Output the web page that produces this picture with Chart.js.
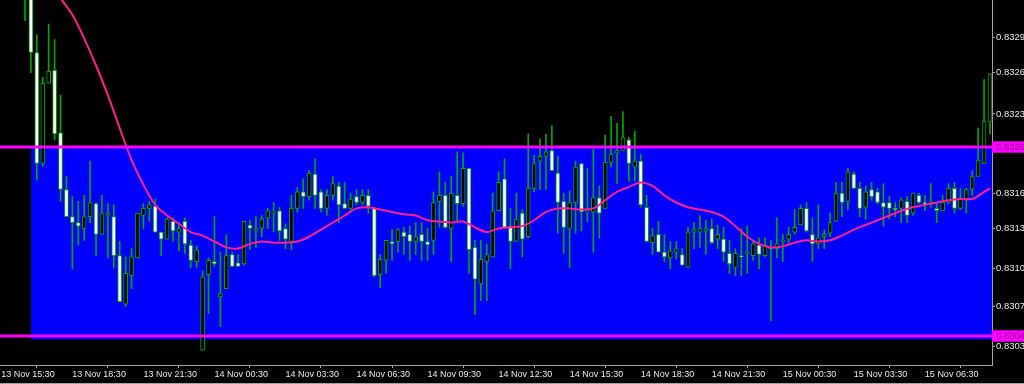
<!DOCTYPE html>
<html><head><meta charset="utf-8">
<script src="https://cdn.jsdelivr.net/npm/chart.js@4/dist/chart.umd.min.js"></script>
<style>html,body{margin:0;padding:0;background:#000;overflow:hidden}canvas{display:block}</style>
</head><body>
<canvas id="c" width="1024" height="384"></canvas>
<script>
// 15-minute candles, candle 0 = 13 Nov 16:30
const opens = [
0.83354,0.83327,0.83280,0.83186,0.83254,0.83265,0.83212,0.83164,0.83141,0.83136,
0.83131,0.83141,0.83152,0.83126,0.83142,0.83141,0.83108,0.83067,0.83091,0.83106,
0.83142,0.83148,0.83150,0.83128,0.83122,0.83137,0.83128,0.83137,0.83117,0.83103,
0.83028,0.83092,0.83103,0.83073,0.83080,0.83109,0.83102,0.83101,0.83134,0.83129,
0.83131,0.83140,0.83144,0.83146,0.83131,0.83120,0.83148,0.83162,0.83158,0.83177,
0.83162,0.83148,0.83159,0.83167,0.83152,0.83148,0.83158,0.83153,0.83159,0.83148,
0.83092,0.83104,0.83120,0.83120,0.83128,0.83126,0.83120,0.83126,0.83120,0.83121,
0.83154,0.83159,0.83131,0.83159,0.83152,0.83182,0.83115,0.83084,0.83103,0.83107,
0.83146,0.83173,0.83133,0.83120,0.83144,0.83124,0.83165,0.83188,0.83192,0.83197,
0.83178,0.83154,0.83131,0.83153,0.83186,0.83145,0.83145,0.83157,0.83148,0.83187,
0.83195,0.83197,0.83206,0.83183,0.83188,0.83149,0.83119,0.83126,0.83111,0.83106,
0.83111,0.83109,0.83098,0.83128,0.83128,0.83129,0.83131,0.83122,0.83122,0.83110,
0.83098,0.83108,0.83110,0.83108,0.83117,0.83108,0.83115,0.83114,0.83120,0.83122,
0.83128,0.83134,0.83148,0.83126,0.83118,0.83124,0.83127,0.83137,0.83161,0.83154,
0.83177,0.83165,0.83149,0.83164,0.83162,0.83153,0.83153,0.83148,0.83148,0.83154,
0.83144,0.83159,0.83153,0.83153,0.83148,0.83146,0.83153,0.83165,0.83148,0.83156,
0.83164,0.83175,0.83186,0.83221];
const highs = [
0.83363,0.83329,0.83295,0.83259,0.83304,0.83291,0.83244,0.83175,0.83158,0.83154,
0.83159,0.83188,0.83153,0.83159,0.83152,0.83151,0.83120,0.83107,0.83114,0.83144,
0.83152,0.83154,0.83156,0.83128,0.83140,0.83140,0.83136,0.83140,0.83121,0.83116,
0.83095,0.83106,0.83141,0.83111,0.83126,0.83111,0.83109,0.83137,0.83138,0.83141,
0.83142,0.83148,0.83153,0.83149,0.83135,0.83159,0.83166,0.83173,0.83180,0.83190,
0.83164,0.83164,0.83175,0.83170,0.83170,0.83161,0.83164,0.83164,0.83164,0.83149,
0.83109,0.83121,0.83130,0.83131,0.83132,0.83133,0.83136,0.83136,0.83131,0.83162,
0.83179,0.83170,0.83175,0.83196,0.83195,0.83182,0.83121,0.83121,0.83118,0.83161,
0.83179,0.83190,0.83148,0.83161,0.83147,0.83211,0.83193,0.83207,0.83211,0.83218,
0.83192,0.83161,0.83163,0.83188,0.83186,0.83182,0.83198,0.83167,0.83210,0.83226,
0.83220,0.83230,0.83208,0.83213,0.83194,0.83159,0.83131,0.83137,0.83126,0.83120,
0.83120,0.83114,0.83132,0.83136,0.83142,0.83138,0.83139,0.83134,0.83132,0.83121,
0.83114,0.83131,0.83133,0.83121,0.83123,0.83123,0.83121,0.83140,0.83126,0.83132,
0.83147,0.83151,0.83153,0.83140,0.83151,0.83130,0.83144,0.83170,0.83170,0.83182,
0.83179,0.83170,0.83167,0.83170,0.83165,0.83169,0.83158,0.83153,0.83157,0.83158,
0.83161,0.83161,0.83159,0.83169,0.83153,0.83159,0.83169,0.83170,0.83165,0.83165,
0.83180,0.83216,0.83257,0.83262];
const lows = [
0.83307,0.83263,0.83172,0.83184,0.83254,0.83206,0.83154,0.83141,0.83097,0.83117,
0.83121,0.83136,0.83108,0.83126,0.83106,0.83098,0.83069,0.83065,0.83080,0.83106,
0.83131,0.83137,0.83128,0.83108,0.83122,0.83120,0.83112,0.83110,0.83098,0.83098,
0.83028,0.83059,0.83099,0.83048,0.83080,0.83099,0.83099,0.83100,0.83113,0.83115,
0.83124,0.83131,0.83128,0.83121,0.83114,0.83113,0.83145,0.83148,0.83155,0.83148,
0.83145,0.83142,0.83155,0.83136,0.83148,0.83145,0.83151,0.83151,0.83144,0.83090,
0.83081,0.83093,0.83104,0.83111,0.83109,0.83104,0.83109,0.83104,0.83104,0.83109,
0.83132,0.83131,0.83103,0.83136,0.83150,0.83093,0.83058,0.83070,0.83070,0.83107,
0.83146,0.83132,0.83097,0.83120,0.83107,0.83123,0.83162,0.83164,0.83164,0.83180,
0.83127,0.83110,0.83098,0.83127,0.83129,0.83137,0.83111,0.83123,0.83148,0.83183,
0.83169,0.83197,0.83171,0.83171,0.83149,0.83120,0.83109,0.83111,0.83103,0.83097,
0.83105,0.83100,0.83098,0.83114,0.83115,0.83109,0.83118,0.83114,0.83103,0.83093,
0.83091,0.83091,0.83093,0.83104,0.83097,0.83107,0.83053,0.83106,0.83103,0.83119,
0.83126,0.83134,0.83128,0.83103,0.83114,0.83114,0.83124,0.83137,0.83141,0.83147,
0.83165,0.83141,0.83139,0.83155,0.83152,0.83133,0.83139,0.83141,0.83136,0.83136,
0.83142,0.83152,0.83146,0.83149,0.83136,0.83146,0.83152,0.83144,0.83147,0.83144,
0.83159,0.83175,0.83186,0.83211];
const closes = [
0.83327,0.83280,0.83186,0.83254,0.83264,0.83211,0.83164,0.83141,0.83136,0.83133,
0.83141,0.83153,0.83126,0.83144,0.83144,0.83108,0.83069,0.83093,0.83107,0.83144,
0.83148,0.83151,0.83128,0.83122,0.83139,0.83129,0.83131,0.83118,0.83104,0.83113,
0.83090,0.83104,0.83101,0.83076,0.83108,0.83099,0.83099,0.83137,0.83131,0.83131,
0.83139,0.83146,0.83145,0.83129,0.83122,0.83148,0.83162,0.83158,0.83178,0.83159,
0.83148,0.83159,0.83169,0.83151,0.83148,0.83156,0.83153,0.83159,0.83150,0.83091,
0.83105,0.83121,0.83118,0.83130,0.83124,0.83120,0.83124,0.83120,0.83117,0.83153,
0.83159,0.83132,0.83161,0.83152,0.83182,0.83113,0.83088,0.83105,0.83109,0.83146,
0.83170,0.83132,0.83120,0.83139,0.83122,0.83165,0.83186,0.83192,0.83196,0.83180,
0.83153,0.83132,0.83153,0.83183,0.83145,0.83146,0.83157,0.83144,0.83187,0.83194,
0.83197,0.83208,0.83186,0.83188,0.83151,0.83120,0.83125,0.83111,0.83107,0.83112,
0.83114,0.83100,0.83128,0.83130,0.83131,0.83131,0.83119,0.83126,0.83111,0.83101,
0.83110,0.83107,0.83110,0.83118,0.83109,0.83117,0.83114,0.83118,0.83121,0.83126,
0.83132,0.83148,0.83129,0.83118,0.83123,0.83126,0.83136,0.83161,0.83153,0.83179,
0.83165,0.83148,0.83162,0.83158,0.83153,0.83149,0.83148,0.83147,0.83155,0.83142,
0.83161,0.83153,0.83152,0.83153,0.83146,0.83153,0.83165,0.83148,0.83157,0.83164,
0.83175,0.83189,0.83222,0.83262];

// moving average, read at candle indices
const maIndex = [2,4,6,8,10,12,14,16,18,20,22,24,26,28,30,32,34,36,38,40,42,44,46,48,50,52,54,56,58,60,
62,64,66,68,70,72,74,76,78,80,82,84,86,88,90,92,94,96,98,100,102,104,106,108,110,112,114,116,118,120,
122,124,126,128,130,132,134,136,138,140,142,144,146,148,150,152,154,156,158,160,162,163];
const maValues = [0.83354,0.83340,0.83326,0.83312,0.83292,0.83269,0.83244,0.83216,0.83189,0.83168,
0.83151,0.83142,0.83135,0.83128,0.83125,0.83120,0.83115,0.83114,0.83118,0.83120,
0.83119,0.83119,0.83120,0.83124,0.83130,0.83136,0.83142,0.83148,0.83149,0.83147,
0.83145,0.83143,0.83142,0.83138,0.83137,0.83136,0.83137,0.83132,0.83128,0.83131,
0.83132,0.83133,0.83138,0.83145,0.83148,0.83148,0.83147,0.83148,0.83155,0.83162,
0.83166,0.83170,0.83167,0.83159,0.83153,0.83149,0.83147,0.83145,0.83141,0.83133,
0.83124,0.83118,0.83115,0.83116,0.83119,0.83121,0.83120,0.83121,0.83125,0.83130,
0.83134,0.83138,0.83142,0.83146,0.83149,0.83151,0.83153,0.83155,0.83156,0.83156,
0.83162,0.83165];

// horizontal levels and zone
const levels = [0.83200, 0.83040];
const zoneTop = 0.83200, zoneBottom = 0.83037, zoneStart = 1;

// axis ticks
const xTickIndex = [-4,8,20,32,44,56,68,80,92,104,116,128,140,152];
const xTickLabels = ["13 Nov 15:30","13 Nov 18:30","13 Nov 21:30","14 Nov 00:30","14 Nov 03:30","14 Nov 06:30",
"14 Nov 09:30","14 Nov 12:30","14 Nov 15:30","14 Nov 18:30","14 Nov 21:30","15 Nov 00:30","15 Nov 03:30","15 Nov 06:30"];
const yTickValues = [0.83293,0.83263,0.83228,0.83200,0.83161,0.83131,0.83097,0.83065,0.83040,0.83031];
const yTickLabels = ["0.8329","0.8326","0.8323","0.8320","0.8316","0.8313","0.8310","0.8307","0.8304","0.8303"];

const X_MIN = -4.22, X_MAX = 163.34, Y_MIN = 0.8301544, Y_MAX = 0.8332445;
const GREEN = '#00a800', AXIS = '#a0a0a0', TXT = '#e6e6e6';

Chart.defaults.font.family = "'Liberation Sans', Arial, sans-serif";

const idx = opens.map((_, i) => i);
const bodyColors = idx.map(i => closes[i] < opens[i] ? '#ffffff' : '#000000');

const bottomLine = {
  id: 'bottomLine',
  afterDraw(chart) {
    const c = chart.ctx;
    c.save(); c.fillStyle = AXIS; c.fillRect(0, chart.height - 1, chart.width, 1); c.restore();
  }
};
const noPad = s => { s.paddingTop = 0; s.paddingBottom = 0; s.paddingLeft = 0; s.paddingRight = 0; };

new Chart(document.getElementById('c'), {
  type: 'bar',
  data: {
    datasets: [
      { type: 'line', data: [{x: zoneStart, y: zoneTop}, {x: X_MAX, y: zoneTop}],
        fill: {value: zoneBottom}, backgroundColor: '#0000ff', borderWidth: 0, pointRadius: 0, order: 10, clip: 0 },
      { type: 'bar', data: idx.map(i => ({x: i, y: [lows[i], highs[i]]})),
        backgroundColor: GREEN, barThickness: 1, grouped: false, order: 9, clip: 0 },
      { type: 'bar', data: idx.map(i => ({x: i, y: [opens[i], closes[i]]})),
        backgroundColor: bodyColors, borderColor: GREEN, borderWidth: 1, borderSkipped: false,
        barThickness: 4, minBarLength: 1, grouped: false, order: 8, clip: 0 },
      { type: 'line', data: maIndex.map((x, k) => ({x, y: maValues[k]})),
        borderColor: '#ff1e8c', borderWidth: 2, pointRadius: 0, tension: 0.3, fill: false, order: 7, clip: 0 },
      ...levels.map(v => ({ type: 'line', data: [{x: X_MIN, y: v}, {x: X_MAX, y: v}],
        borderColor: '#ff00ff', borderWidth: 3, pointRadius: 0, fill: false, order: 1, clip: 0 }))
    ]
  },
  options: {
    responsive: false, animation: false,
    layout: {padding: 0},
    plugins: {legend: {display: false}, tooltip: {enabled: false}},
    scales: {
      x: {
        type: 'linear', min: X_MIN, max: X_MAX, offset: false, position: 'bottom',
        afterBuildTicks: s => { s.ticks = xTickIndex.map(v => ({value: v})); },
        afterFit: s => { s.height = 19; noPad(s); },
        grid: {display: true, drawOnChartArea: false, drawTicks: true, tickLength: 3, color: AXIS},
        border: {display: true, color: AXIS, width: 1},
        ticks: {autoSkip: false, maxRotation: 0, minRotation: 0, align: 'start', padding: 1, color: TXT,
          font: {size: 9}, callback: (v, i) => xTickLabels[i]}
      },
      y: {
        type: 'linear', position: 'right', min: Y_MIN, max: Y_MAX,
        afterBuildTicks: s => { s.ticks = yTickValues.map(v => ({value: v})); },
        afterFit: s => { s.width = 32; noPad(s); },
        grid: {display: true, drawOnChartArea: false, drawTicks: true, tickLength: 3, color: AXIS},
        border: {display: true, color: AXIS, width: 1},
        ticks: {autoSkip: false, padding: 1, font: {size: 9.5},
          color: ctx => levels.includes(yTickValues[ctx.index]) ? '#8b008b' : TXT,
          showLabelBackdrop: ctx => levels.includes(yTickValues[ctx.index]),
          backdropColor: '#ff00ff',
          backdropPadding: {top: 0, bottom: 0, left: 4, right: 30},
          callback: (v, i) => yTickLabels[i]}
      }
    }
  },
  plugins: [bottomLine]
});
</script>
</body></html>
